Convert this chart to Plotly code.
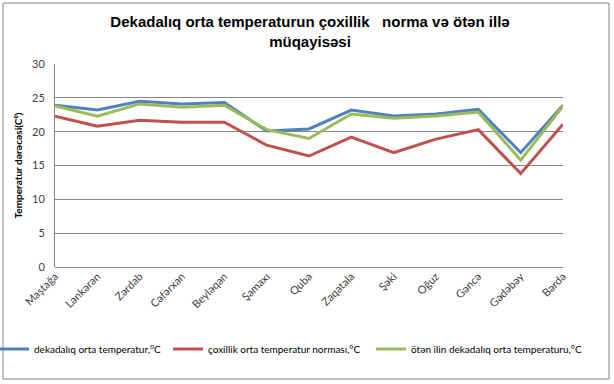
import plotly.graph_objects as go

categories = ["Maştağa", "Lənkəran", "Zərdab", "Cəfərxan", "Beyləqan", "Şamaxı", "Quba",
              "Zaqatala", "Şəki", "Oğuz", "Gəncə", "Gədəbəy", "Bərdə"]
dekadaliq = [23.9, 23.2, 24.5, 24.1, 24.3, 20.1, 20.4, 23.2, 22.3, 22.6, 23.3, 16.9, 23.9]
norma = [22.3, 20.8, 21.7, 21.4, 21.4, 18.0, 16.4, 19.2, 16.9, 18.9, 20.3, 13.8, 21.1]
oten_il = [23.8, 22.3, 24.1, 23.6, 23.9, 20.3, 19.0, 22.6, 22.0, 22.3, 22.9, 15.8, 23.8]
y_ticks = [0, 5, 10, 15, 20, 25, 30]

names = ["dekadalıq orta temperatur,°C", "çoxillik orta temperatur norması,°C",
         "ötən ilin dekadalıq orta temperaturu,°C"]
colors = ["#4F81BD", "#C0504D", "#9BBB59"]

W, H = 614, 384
L, R, T, B = 55, 563, 64, 267
pw, ph = R - L, B - T

def px(x):
    return (x - L) / pw

def py(y):
    return (B - y) / ph

legend_ids = ["legend", "legend2", "legend3"]
legend_x = [-6, 168, 371]

fig = go.Figure()
for name, vals, c, lg in zip(names, [dekadaliq, norma, oten_il], colors, legend_ids):
    fig.add_trace(go.Scatter(x=categories, y=vals, mode="lines", name=name,
                             line=dict(color=c, width=3), legend=lg))

legend_common = dict(orientation="h", xanchor="left", y=py(349), yanchor="middle",
                     font=dict(size=10, color="black"), itemwidth=30,
                     bgcolor="rgba(0,0,0,0)")

fig.update_layout(
    width=W, height=H,
    margin=dict(l=L, r=W - R, t=T, b=H - B, autoexpand=False),
    paper_bgcolor="white", plot_bgcolor="white",
    font=dict(family="Lato, Open Sans, sans-serif", size=11, color="#404040"),
    title=dict(text="<b>Dekadalıq orta temperaturun çoxillik   norma və ötən illə<br>müqayisəsi</b>",
               x=310 / W, xanchor="center", xref="container",
               y=1 - 27 / H, yanchor="middle", yref="container",
               font=dict(family="Liberation Sans, Arial, sans-serif", size=15, color="black")),
    showlegend=True,
    legend=dict(x=px(legend_x[0]), **legend_common),
    legend2=dict(x=px(legend_x[1]), **legend_common),
    legend3=dict(x=px(legend_x[2]), **legend_common),
    xaxis=dict(type="category", tickangle=-45, showgrid=False, showline=False,
               ticks="", tickfont=dict(size=11, color="#404040"), fixedrange=True),
    yaxis=dict(range=[0, 30], tickvals=y_ticks, showgrid=True, gridcolor="#868686",
               gridwidth=1, showline=True, linecolor="#868686", linewidth=1,
               zeroline=True, zerolinecolor="#868686", zerolinewidth=1,
               ticks="outside", ticklen=7, tickcolor="rgba(0,0,0,0)",
               tickfont=dict(size=11, color="#404040"),
               title=dict(text="<b>Temperatur dərəcəsi(C⁰)</b>", standoff=7,
                          font=dict(size=10, color="black"))),
)

fig.add_shape(type="rect", xref="paper", yref="paper",
              x0=px(3), x1=px(609), y0=py(379), y1=py(3),
              line=dict(color="#868686", width=1), layer="below")

fig.write_html("out.html", config={"displayModeBar": False},
               post_script="document.body.style.margin='0';")
